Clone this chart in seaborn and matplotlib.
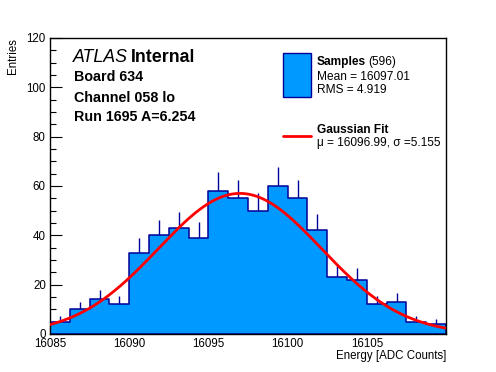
import numpy as np
import pandas as pd
import matplotlib
matplotlib.use('Agg')
import matplotlib.pyplot as plt
import seaborn as sns
from matplotlib.ticker import MultipleLocator
from matplotlib.patches import Rectangle
from matplotlib.lines import Line2D

# =============================================
# Histogram data: 20 bins of 1.25 ADC counts
bin_edges = np.linspace(16085, 16110, 21)
counts = [5, 10, 14, 12, 33, 40, 43, 39, 58, 55,
          50, 60, 55, 42, 23, 22, 12, 13, 5, 4]
x_ticks = [16085, 16090, 16095, 16100, 16105]

# Fit parameters as shown in the legend
fit_mu = 16096.99
fit_sigma = 5.155
fit_amp = 57.0

n_entries = 596
mean_val = 16097.01
rms_val = 4.919

fill_color = '#0099ff'
edge_color = '#000099'

# =============================================

sns.set_style('ticks')
plt.rcParams['font.family'] = ['Liberation Sans', 'DejaVu Sans']
plt.rcParams['text.color'] = 'black'
plt.rcParams['xtick.color'] = 'black'
plt.rcParams['ytick.color'] = 'black'
plt.rcParams['axes.labelcolor'] = 'black'

W, H = 496, 372
fig = plt.figure(figsize=(W / 100, H / 100), dpi=100)
ax = fig.add_axes([50 / W, 1 - 334 / H, 396 / W, 296 / H])


def px(x, y):
    # pixel position -> figure fraction
    return x / W, 1 - y / H


centers = (bin_edges[:-1] + bin_edges[1:]) / 2
hist_df = pd.DataFrame({'Energy': centers, 'Entries': counts})

# error bars sit behind the filled histogram, like ROOT's "HIST E"
ax.errorbar(hist_df['Energy'], hist_df['Entries'], yerr=np.sqrt(hist_df['Entries']),
            fmt='none', ecolor=edge_color, elinewidth=1.0, capsize=0, zorder=0.5)

sns.histplot(data=hist_df, x='Energy', weights='Entries', bins=list(bin_edges),
             element='step', fill=True, color=fill_color, edgecolor=edge_color,
             alpha=1, linewidth=1.1, ax=ax, zorder=1)

# Gaussian fit curve
xs = np.linspace(bin_edges[0], bin_edges[-1], 400)
ys = fit_amp * np.exp(-(xs - fit_mu) ** 2 / (2 * fit_sigma ** 2))
ax.plot(xs, ys, color='red', linewidth=2, zorder=3)

ax.set_xlim(16085, 16110)
ax.set_ylim(0, 120)
ax.set_xticks(x_ticks)
ax.xaxis.set_minor_locator(MultipleLocator(1))
ax.yaxis.set_major_locator(MultipleLocator(20))
ax.yaxis.set_minor_locator(MultipleLocator(5))

ax.tick_params(axis='x', which='major', direction='in', length=6.5, width=0.8,
               labelsize=8.3, pad=3, top=False, colors='black')
ax.tick_params(axis='x', which='minor', direction='in', length=3.2, width=0.8, top=False)
ax.tick_params(axis='y', which='major', direction='in', length=8.6, width=0.8,
               labelsize=8.3, pad=3, right=False, colors='black')
ax.tick_params(axis='y', which='minor', direction='in', length=4.3, width=0.8, right=False)

for sp in ax.spines.values():
    sp.set_visible(True)
    sp.set_linewidth(1.0)
    sp.set_color('black')

ax.set_xlabel('')
ax.set_ylabel('')
fig.text(*px(446, 356.5), 'Energy [ADC Counts]', ha='right', va='center', fontsize=8.3)
fig.text(*px(13, 38), 'Entries', ha='center', va='top', rotation=90, fontsize=8.3)

# ATLAS label block
fig.text(*px(73, 62), 'ATLAS', fontsize=12.8, style='italic', va='baseline')
fig.text(*px(131, 62), 'Internal', fontsize=12.8, weight='bold', va='baseline')
fig.text(*px(74, 81), 'Board 634', fontsize=10.3, weight='bold', va='baseline')
fig.text(*px(74, 101.5), 'Channel 058 lo', fontsize=10.3, weight='bold', va='baseline')
fig.text(*px(74, 121), 'Run 1695 A=6.254', fontsize=10.3, weight='bold', va='baseline')

# legend drawn by hand, ROOT style
x0, y0 = px(283, 97)
x1, y1 = px(311, 53)
fig.patches.append(Rectangle((x0, y0), x1 - x0, y1 - y0, transform=fig.transFigure,
                             facecolor=fill_color, edgecolor=edge_color, linewidth=1.0))
fig.text(*px(317, 65.5), 'Samples', fontsize=8.6, weight='bold', va='baseline')
fig.text(*px(368, 65.5), f'({n_entries})', fontsize=8.6, va='baseline')
fig.text(*px(317, 79.5), f'Mean = {mean_val:.2f}', fontsize=8.6, va='baseline')
fig.text(*px(317, 93), f'RMS = {rms_val:.3f}', fontsize=8.6, va='baseline')

lx0, ly = px(283, 136)
lx1, _ = px(311, 136)
fig.lines.append(Line2D([lx0, lx1], [ly, ly], transform=fig.transFigure,
                        color='red', linewidth=2))
fig.text(*px(317, 133), 'Gaussian Fit', fontsize=8.6, weight='bold', va='baseline')
fig.text(*px(317, 146), f'\u03bc = {fit_mu:.2f}, \u03c3 ={fit_sigma:.3f}',
         fontsize=8.6, va='baseline')

fig.savefig('out.png', dpi=100)
